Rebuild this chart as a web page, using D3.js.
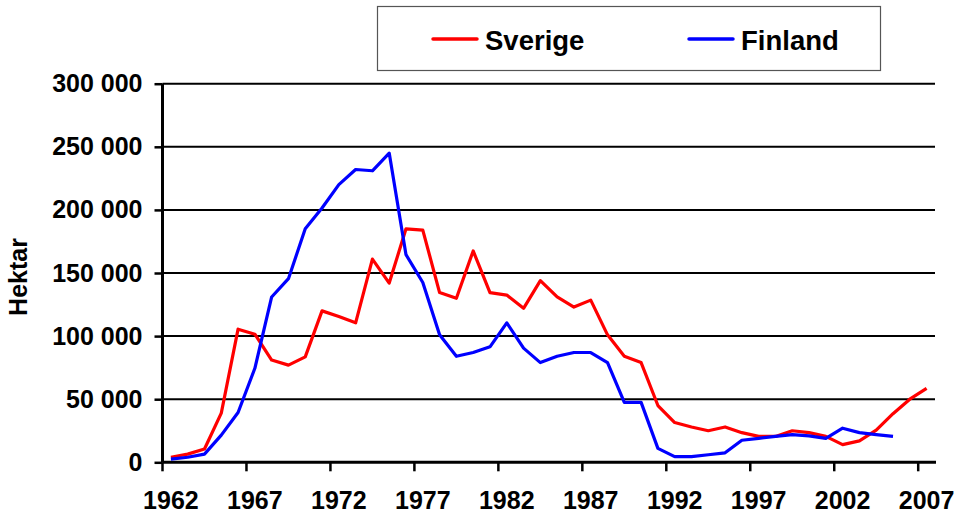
<!DOCTYPE html>
<html>
<head>
<meta charset="utf-8">
<script src="https://cdn.jsdelivr.net/npm/d3@7"></script>
<style>
  html, body { margin: 0; padding: 0; background: #fff; }
  svg { display: block; font-family: 'Liberation Sans', Arial, sans-serif; font-weight: 700; }
</style>
</head>
<body>
<div id="chart"></div>
<script>
const years = d3.range(1962, 2008);
const sverige = [4000, 6500, 10500, 39000, 105500, 101500, 81000, 77000, 83500, 120000,
  115500, 110500, 161000, 142000, 185000, 184000, 134500, 130000, 167500, 134500,
  132500, 122000, 144000, 131000, 123000, 128500, 101000, 84000, 79000, 45000,
  31500, 28000, 25000, 28000, 23500, 20500, 20500, 25000, 23500, 20500,
  14000, 17000, 25500, 38500, 50000, 58500];
const finland = [2500, 4000, 6500, 21500, 39500, 74500, 131000, 145500, 185000, 201500,
  220000, 232000, 231000, 245000, 164500, 142500, 101000, 84000, 87000, 91500,
  110500, 90500, 79000, 84000, 87000, 87000, 79000, 47500, 47500, 11000,
  4500, 4500, 6000, 7500, 17500, 19000, 20500, 22000, 21000, 19000,
  27000, 23500, 22000, 20500, null, null];
const yTicks = [0, 50000, 100000, 150000, 200000, 250000, 300000];
const xLabelYears = [1962, 1967, 1972, 1977, 1982, 1987, 1992, 1997, 2002, 2007];
const seriesNames = ['Sverige', 'Finland'];
const seriesColors = ['#ff0000', '#0000ff'];

const W = 958, H = 517;
const plotL = 162.5, plotR = 935, plotT = 83.7, plotB = 462.3;

const svg = d3.select('#chart').append('svg').attr('width', W).attr('height', H);

const x = d3.scaleBand().domain(years).range([plotL, plotR]);
const xc = yr => x(yr) + x.bandwidth() / 2;
const y = d3.scaleLinear().domain([0, 300000]).range([plotB, plotT]);
const fmt = v => d3.format(',')(v).replace(/,/g, ' ');

// gridlines
svg.append('g').selectAll('line').data(yTicks.filter(d => d > 0)).join('line')
  .attr('x1', plotL).attr('x2', plotR)
  .attr('y1', d => y(d)).attr('y2', d => y(d))
  .attr('stroke', '#000').attr('stroke-width', 2);

// y axis
const yAxis = svg.append('g').attr('transform', `translate(${plotL},0)`)
  .call(d3.axisLeft(y).tickValues(yTicks).tickSize(8).tickPadding(12).tickFormat(fmt));
yAxis.select('.domain').attr('stroke-width', 3).attr('d', `M0,${plotB}V${plotT}`);
yAxis.selectAll('.tick line').attr('stroke-width', 2.5);
yAxis.selectAll('.tick text').attr('font-size', 25).attr('font-weight', 700)
  .attr('font-family', "'Liberation Sans', Arial, sans-serif").attr('fill', '#000');

// x axis: ticks at the left edge of every 5th category, labels at category centre
const xg = svg.append('g');
xg.append('line').attr('x1', plotL).attr('x2', plotR + 1).attr('y1', plotB).attr('y2', plotB)
  .attr('stroke', '#000').attr('stroke-width', 3);
xg.selectAll('.xt').data(xLabelYears).join('line').attr('class', 'xt')
  .attr('x1', d => x(d)).attr('x2', d => x(d))
  .attr('y1', plotB).attr('y2', plotB + 9)
  .attr('stroke', '#000').attr('stroke-width', 2.5);
xg.selectAll('.xl').data(xLabelYears).join('text').attr('class', 'xl')
  .attr('x', d => xc(d)).attr('y', 509)
  .attr('text-anchor', 'middle').attr('font-size', 25).attr('fill', '#000')
  .text(d => d);

// y title
svg.append('text').attr('transform', 'translate(27,277) rotate(-90)')
  .attr('text-anchor', 'middle').attr('font-size', 25).attr('fill', '#000').text('Hektar');

// lines
const line = d3.line().defined(d => d.v != null).x(d => xc(d.yr)).y(d => y(d.v));
[sverige, finland].forEach((vals, i) => {
  svg.append('path')
    .datum(years.map((yr, k) => ({ yr, v: vals[k] })))
    .attr('d', line).attr('fill', 'none')
    .attr('stroke', seriesColors[i]).attr('stroke-width', 3.2)
    .attr('stroke-linejoin', 'round');
});

// legend
const lg = svg.append('g');
lg.append('rect').attr('x', 377.5).attr('y', 6.5).attr('width', 503).attr('height', 64)
  .attr('fill', '#fff').attr('stroke', '#555').attr('stroke-width', 1.2);
const legendX = [433, 689];
seriesNames.forEach((name, i) => {
  lg.append('line').attr('x1', legendX[i]).attr('x2', legendX[i] + 44).attr('y1', 39).attr('y2', 39)
    .attr('stroke', seriesColors[i]).attr('stroke-width', 3.5).attr('stroke-linecap', 'round');
  lg.append('text').attr('x', legendX[i] + 52).attr('y', 49.5)
    .attr('font-size', 27.5).attr('fill', '#000').text(name);
});
</script>
</body>
</html>
